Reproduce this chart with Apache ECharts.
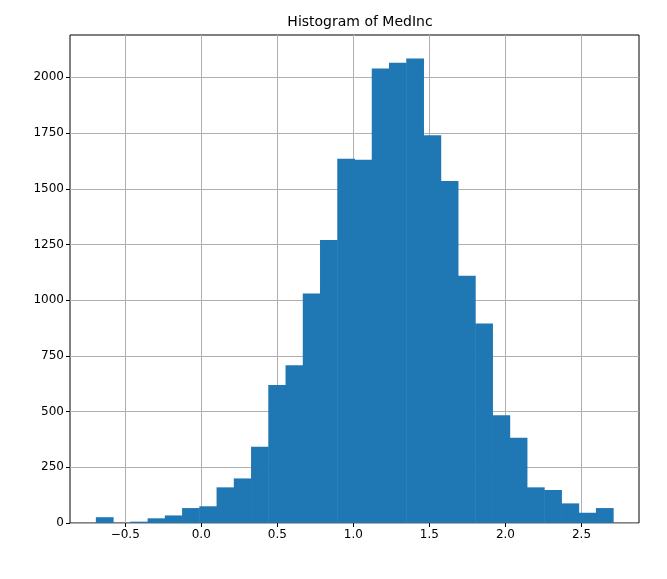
<!DOCTYPE html>
<html><head><meta charset="utf-8">
<script src="https://cdn.jsdelivr.net/npm/echarts@6/dist/echarts.min.js"></script>
<style>html,body{margin:0;padding:0;background:#fff}#c{width:667px;height:579px}</style>
</head><body><div id="c"></div>
<script>
const binStart = -0.693;
const binWidth = 0.11337;
const counts = [26,0,6,21,34,67,75,160,200,342,619,708,1030,1270,1635,1630,2040,2065,2085,1740,1535,1110,895,483,383,160,148,88,46,67];
const xTicks = [-0.5,0,0.5,1,1.5,2,2.5];
const yTicks = [0,250,500,750,1000,1250,1500,1750,2000];
const title = 'Histogram of MedInc';

const data = counts.map((c,i)=>[binStart+i*binWidth, binStart+(i+1)*binWidth, c]);
const font = 'DejaVu Sans';
const chart = echarts.init(document.getElementById('c'));
chart.setOption({
  animation:false,
  title:{text:title,left:355,top:10,textAlign:'center',textStyle:{fontFamily:font,fontSize:14,fontWeight:'normal',color:'#000'}},
  grid:{left:70,right:28,top:35,bottom:56,show:true,borderColor:'#000',borderWidth:1},
  xAxis:{type:'value',min:-0.863,max:2.878,
    axisLine:{show:false,onZero:false},
    axisTick:{customValues:xTicks,inside:false,length:4,lineStyle:{color:'#000'}},
    axisLabel:{customValues:xTicks,fontFamily:font,fontSize:12,color:'#000',margin:6,
      formatter:v=>(v<0?'\u2212':'')+Math.abs(v).toFixed(1)},
    splitLine:{show:true,lineStyle:{color:'#b0b0b0',width:1}}
  },
  yAxis:{type:'value',min:0,max:2190,
    axisLine:{show:false,onZero:false},
    axisTick:{customValues:yTicks,inside:false,length:4,lineStyle:{color:'#000'}},
    axisLabel:{customValues:yTicks,fontFamily:font,fontSize:12,color:'#000',margin:6,formatter:v=>String(v)},
    splitLine:{show:true,lineStyle:{color:'#b0b0b0',width:1}}
  },
  series:[{type:'custom',data:data,z:1,
    renderItem:(params,api)=>{
      const p0=api.coord([api.value(0),api.value(2)]);
      const p1=api.coord([api.value(1),0]);
      return {type:'rect',shape:{x:p0[0],y:p0[1],width:p1[0]-p0[0]+0.5,height:p1[1]-p0[1]},
        style:{fill:'#1f77b4',stroke:null}};
    }
  }]
});
</script></body></html>
